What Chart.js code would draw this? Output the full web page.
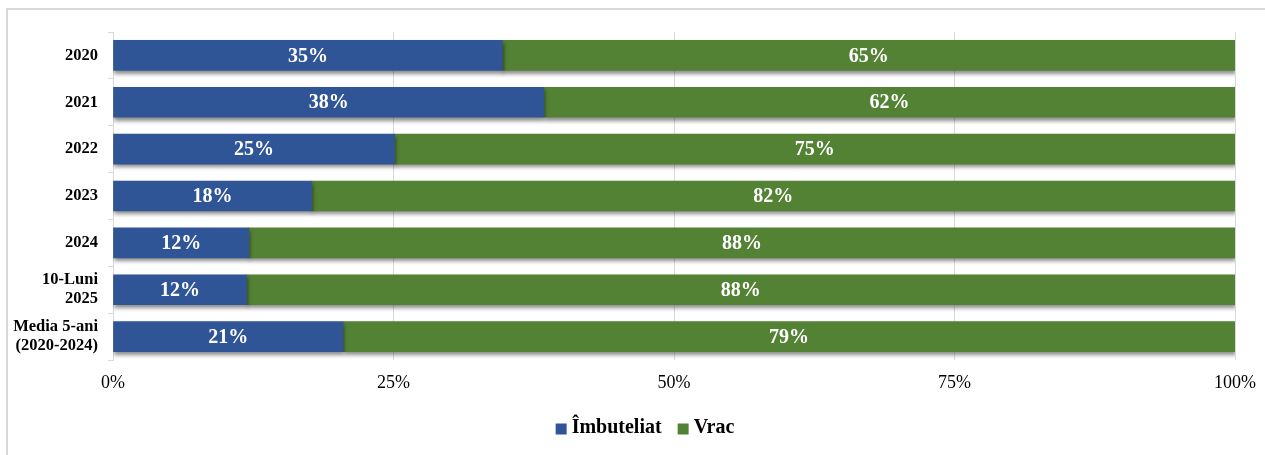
<!DOCTYPE html>
<html>
<head>
<meta charset="utf-8">
<script src="https://cdn.jsdelivr.net/npm/chart.js@4/dist/chart.umd.min.js"></script>
<style>
  html, body { margin: 0; padding: 0; background: #fff; }
  #wrap { position: relative; width: 1265px; height: 455px; }
  #frame { position: absolute; left: 6px; top: 8px; right: 0; bottom: 0;
           border-top: 2px solid #d9d9d9; border-left: 2px solid #d9d9d9; pointer-events: none; }
  canvas { position: absolute; left: 0; top: 0; }
</style>
</head>
<body>
<div id="wrap">
  <canvas id="c" width="1265" height="455"></canvas>
  <div id="frame"></div>
</div>
<script>
const categories = ['2020', '2021', '2022', '2023', '2024', ['10-Luni', '2025'], ['Media 5-ani', '(2020-2024)']];
const imbuteliat = [34.7, 38.4, 25.1, 17.7, 12.1, 11.9, 20.5];
const vrac = [65.3, 61.6, 74.9, 82.3, 87.9, 88.1, 79.5];
const imbuteliatLabels = ['35%', '38%', '25%', '18%', '12%', '12%', '21%'];
const vracLabels = ['65%', '62%', '75%', '82%', '88%', '88%', '79%'];
const xTicks = ['0%', '25%', '50%', '75%', '100%'];

const SERIF = '"Liberation Serif", "Times New Roman", serif';

const shadowPlugin = {
  id: 'barShadow',
  beforeDatasetsDraw(chart) {
    const ctx = chart.ctx;
    ctx.save();
    ctx.shadowColor = 'rgba(0,0,0,0.45)';
    ctx.shadowBlur = 4;
    ctx.shadowOffsetX = 1;
    ctx.shadowOffsetY = 3;
  },
  afterDatasetsDraw(chart) {
    chart.ctx.restore();
  }
};

const labelPlugin = {
  id: 'segLabels',
  afterDatasetsDraw(chart) {
    const ctx = chart.ctx;
    ctx.save();
    ctx.fillStyle = '#ffffff';
    ctx.font = 'bold 20px ' + SERIF;
    ctx.textAlign = 'center';
    ctx.textBaseline = 'middle';
    chart.data.datasets.forEach((ds, di) => {
      const meta = chart.getDatasetMeta(di);
      meta.data.forEach((bar, i) => {
        const p = bar.getProps(['x', 'y', 'base'], true);
        const cx = (p.x + p.base) / 2;
        ctx.fillText(ds.segLabels[i], cx, p.y + 1);
      });
    });
    ctx.restore();
  }
};

// Legend drawn from the datasets (label + colour), centred like the reference
const legendPlugin = {
  id: 'customLegend',
  afterDraw(chart, args, opts) {
    const ctx = chart.ctx;
    ctx.save();
    ctx.font = 'bold 20px ' + SERIF;
    ctx.textBaseline = 'middle';
    ctx.textAlign = 'left';
    const box = 11, gapText = 5, gapItem = 16;
    const items = chart.data.datasets.map(ds => ({
      text: ds.label, color: ds.backgroundColor, w: ctx.measureText(ds.label).width
    }));
    let total = 0;
    items.forEach((it, i) => { total += box + gapText + it.w + (i ? gapItem : 0); });
    let x = opts.centerX - total / 2;
    const y = opts.centerY;
    items.forEach((it, i) => {
      if (i) x += gapItem;
      ctx.fillStyle = it.color;
      ctx.fillRect(x, y - box / 2 + 1, box, box);
      x += box + gapText;
      ctx.fillStyle = '#000';
      ctx.fillText(it.text, x, y);
      x += it.w;
    });
    ctx.restore();
  }
};

new Chart(document.getElementById('c'), {
  type: 'bar',
  data: {
    labels: categories,
    datasets: [
      { label: 'Îmbuteliat', data: imbuteliat, segLabels: imbuteliatLabels,
        backgroundColor: '#2F5597', barThickness: 30 },
      { label: 'Vrac', data: vrac, segLabels: vracLabels,
        backgroundColor: '#548235', barThickness: 30 }
    ]
  },
  options: {
    indexAxis: 'y',
    responsive: false,
    animation: false,
    layout: { padding: { left: 8, right: 30, top: 32, bottom: 47 } },
    scales: {
      x: {
        stacked: true,
        min: 0, max: 100,
        afterBuildTicks(scale) {
          scale.ticks = xTicks.map((t, i) => ({ value: i * 25 }));
        },
        afterFit(scale) {
          scale.height = 48;
          scale.paddingRight = 0;
          scale.paddingLeft = 0;
        },
        border: { display: false },
        grid: { color: '#d9d9d9', lineWidth: 1, drawTicks: false },
        ticks: {
          padding: 12,
          color: '#000',
          font: { family: SERIF, size: 18 },
          callback: (v, i) => xTicks[i]
        }
      },
      y: {
        stacked: true,
        afterFit(scale) { scale.width = 105; },
        border: { display: true, color: '#d9d9d9', width: 1 },
        grid: { display: true, drawOnChartArea: false, color: '#d9d9d9', tickLength: 5 },
        ticks: {
          padding: 10,
          color: '#000',
          font: { family: SERIF, size: 16.5, weight: 'bold', lineHeight: 1.15 }
        }
      }
    },
    plugins: {
      legend: { display: false },
      tooltip: { enabled: false },
      customLegend: { centerX: 645, centerY: 428 }
    }
  },
  plugins: [shadowPlugin, labelPlugin, legendPlugin]
});
</script>
</body>
</html>
